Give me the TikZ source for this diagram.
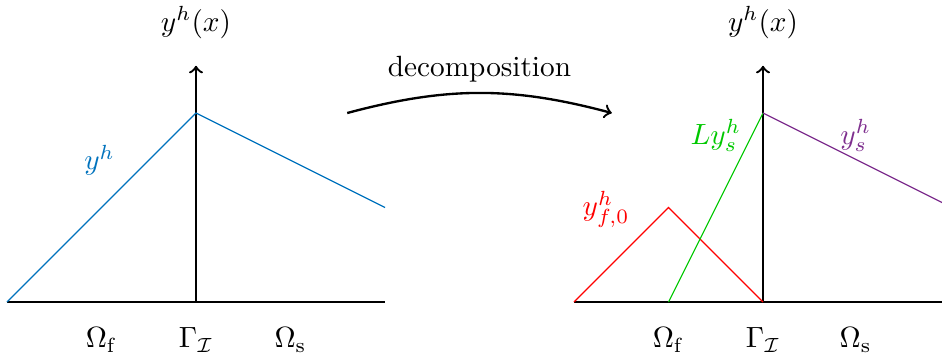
\documentclass[tikz,border=0pt]{standalone}
\usetikzlibrary{calc}
\tikzset{
  axis/.style={
    black,
    thick
  },
  graph/.style={
    thin
  }
}
\begin{document}
\begin{tikzpicture}[x=2.27cm,y=2.27cm,>=to]

    % colours
    \definecolor{myblue}{RGB}{0,114,189}
    \definecolor{mygreen}{RGB}{0,200,0}
    \definecolor{mypurple}{RGB}{126,47,142}

    % parameters
    \def\ytop{1.25}  % top of the y axis
    \def\dx{3.0}     % shift of the right plot
    \def\ylab{-0.2}  % height of the domain labels

    \useasboundingbox (-1.037,-0.307) rectangle (3.947,1.598);

    % left plot: axes
    \draw[axis] (-1,0) -- (1,0);
    \draw[axis,->] (0,0) -- (0,\ytop);
    \node (lyx) at (0,1.48) {$y^h(x)$};

    % left plot: y^h
    \draw[graph,myblue] (-1,0) -- (0,1) -- (1,0.5);
    \node[myblue] (lyh) at (-0.51,0.75) {$y^h$};

    % left plot: domains
    \node (lOf) at (-0.5,\ylab) {$\Omega_\mathrm{f}$};
    \node (lGI) at (0,\ylab) {$\Gamma_\mathcal{I}$};
    \node (lOs) at (0.5,\ylab) {$\Omega_\mathrm{s}$};

    % arrow between the plots
    \coordinate (decA) at (0.8,1.0);
    \coordinate (decB) at (2.2,1.0);
    \draw[thick,->] (decA) to[bend left=15]
        node[above] (declab) {decomposition} (decB);

    % right plot
    \begin{scope}[xshift=\dx*2.27cm]
        % axes
        \draw[axis] (-1,0) -- (1,0);
        \draw[axis,->] (0,0) -- (0,\ytop);
        \node (ryx) at (0,1.48) {$y^h(x)$};

        % y_{f,0}^h
        \draw[graph,red] (-1,0) -- (-0.5,0.5) -- (0,0);
        \node[red] (ryf) at (-0.83,0.49) {$y^h_{f,0}$};

        % L y_s^h
        \draw[graph,mygreen] (-0.5,0) -- (0,1);
        \node[mygreen] (rLys) at (-0.25,0.88) {$Ly^h_s$};

        % y_s^h
        \draw[graph,mypurple] (0,1) -- (1,0.5);
        \node[mypurple] (rys) at (0.49,0.88) {$y^h_s$};

        % domains
        \node (rOf) at (-0.5,\ylab) {$\Omega_\mathrm{f}$};
        \node (rGI) at (0,\ylab) {$\Gamma_\mathcal{I}$};
        \node (rOs) at (0.49,\ylab) {$\Omega_\mathrm{s}$};
    \end{scope}

\end{tikzpicture}
\end{document}
